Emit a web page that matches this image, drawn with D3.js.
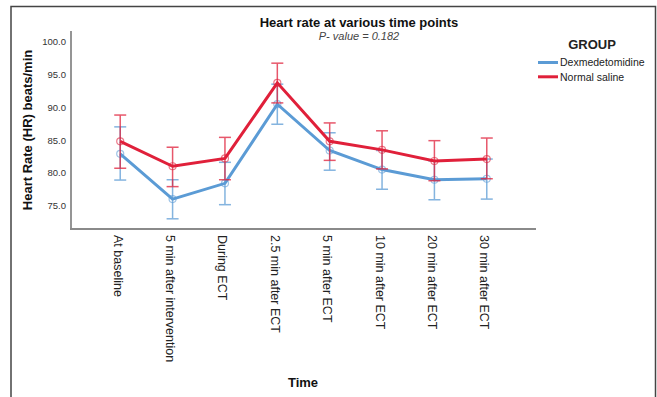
<!DOCTYPE html>
<html>
<head>
<meta charset="utf-8">
<script src="https://cdn.jsdelivr.net/npm/d3@7"></script>
<style>
  html, body { margin: 0; padding: 0; background: #fff; }
  svg { display: block; font-family: "Liberation Sans", Arial, sans-serif; }
</style>
</head>
<body>
<svg id="chart" width="657" height="397"></svg>
<script>
// time points on the x axis
const timePoints = ['At baseline', '5 min after intervention', 'During ECT', '2.5 min after ECT',
  '5 min after ECT', '10 min after ECT', '20 min after ECT', '30 min after ECT'];

// mean heart rate and error bar bounds
const dexMean  = [82.9, 76.0, 78.4, 90.45, 83.4, 80.5, 78.95, 79.1];
const dexLow   = [78.9, 73.0, 75.15, 87.4, 80.4, 77.5, 75.9, 76.0];
const dexHigh  = [87.0, 78.95, 81.6, 93.5, 86.1, 83.4, 81.8, 82.1];
const salMean  = [84.8, 81.0, 82.2, 93.7, 84.8, 83.5, 81.8, 82.1];
const salLow   = [80.7, 77.9, 78.95, 90.65, 81.9, 80.6, 78.8, 79.1];
const salHigh  = [88.8, 83.9, 85.4, 96.7, 87.6, 86.4, 84.9, 85.3];

const yTicks = [75, 80, 85, 90, 95, 100];
const groups = ['Dexmedetomidine', 'Normal saline'];
const groupColours = ['#5b9bd5', '#e0203a'];

const svg = d3.select('#chart');

// outer frame
svg.append('path')
  .attr('d', 'M11,397 V6.5 H655.5 V397')
  .attr('fill', 'none')
  .attr('stroke', '#444')
  .attr('stroke-width', 1.5);

const x = d3.scalePoint().domain(timePoints).range([71, 536]).padding(0.94);
const y = d3.scaleLinear().domain([70, 100]).range([238.5, 41.5]);

// axes — grey lines, no tick marks
const yAxis = svg.append('g').attr('transform', 'translate(71,0)')
  .call(d3.axisLeft(y).tickValues(yTicks).tickFormat(d3.format('.1f')).tickSize(0).tickPadding(5));
yAxis.select('.domain').remove();
yAxis.selectAll('text').attr('font-size', 9.5).attr('fill', '#333')
  .attr('font-family', '"Liberation Sans", Arial, sans-serif');

svg.append('line').attr('x1', 71).attr('x2', 71).attr('y1', 31).attr('y2', 229.5)
  .attr('stroke', '#8a8a8a').attr('stroke-width', 1.8);
svg.append('line').attr('x1', 70).attr('x2', 536).attr('y1', 229).attr('y2', 229)
  .attr('stroke', '#8a8a8a').attr('stroke-width', 1.8);

const xAxis = svg.append('g').attr('transform', 'translate(0,229)')
  .call(d3.axisBottom(x).tickSize(0));
xAxis.select('.domain').remove();
xAxis.selectAll('text')
  .attr('font-size', 12.5).attr('fill', '#222')
  .attr('font-family', '"Liberation Sans", Arial, sans-serif')
  .attr('text-anchor', 'start')
  .attr('dy', null)
  .attr('y', 0)
  .attr('transform', 'translate(-7,6) rotate(90)');

const series = [
  { mean: dexMean, low: dexLow, high: dexHigh, colour: groupColours[0] },
  { mean: salMean, low: salLow, high: salHigh, colour: groupColours[1] }
];

const line = d3.line().x((d, i) => x(timePoints[i])).y(d => y(d));

series.forEach(s => {
  const g = svg.append('g');
  // error bars
  const bars = g.selectAll('g.err').data(timePoints).enter().append('g')
    .attr('opacity', 0.75);
  bars.append('line')
    .attr('x1', d => x(d)).attr('x2', d => x(d))
    .attr('y1', (d, i) => y(s.low[i])).attr('y2', (d, i) => y(s.high[i]))
    .attr('stroke', s.colour).attr('stroke-width', 1.5);
  [s.low, s.high].forEach(arr => {
    bars.append('line')
      .attr('x1', d => x(d) - 6).attr('x2', d => x(d) + 6)
      .attr('y1', (d, i) => y(arr[i])).attr('y2', (d, i) => y(arr[i]))
      .attr('stroke', s.colour).attr('stroke-width', 1.5);
  });
  // mean line
  g.append('path').datum(s.mean)
    .attr('d', line)
    .attr('fill', 'none')
    .attr('stroke', s.colour)
    .attr('stroke-width', 3);
  // markers
  g.selectAll('circle').data(s.mean).enter().append('circle')
    .attr('cx', (d, i) => x(timePoints[i])).attr('cy', d => y(d))
    .attr('r', 3.5)
    .attr('fill', 'none')
    .attr('stroke', s.colour)
    .attr('stroke-opacity', 0.6)
    .attr('stroke-width', 1.2);
});

// titles
svg.append('text').attr('x', 359).attr('y', 27).attr('text-anchor', 'middle')
  .attr('font-size', 13).attr('font-weight', 'bold').attr('fill', '#111')
  .text('Heart rate at various time points');
svg.append('text').attr('x', 359).attr('y', 39.5).attr('text-anchor', 'middle')
  .attr('font-size', 11).attr('font-style', 'italic').attr('fill', '#444')
  .text('P- value = 0.182');

svg.append('text')
  .attr('transform', 'translate(32,130) rotate(-90)')
  .attr('text-anchor', 'middle')
  .attr('font-size', 13).attr('font-weight', 'bold').attr('fill', '#111')
  .text('Heart Rate (HR) beats/min');

svg.append('text').attr('x', 303).attr('y', 387).attr('text-anchor', 'middle')
  .attr('font-size', 13).attr('font-weight', 'bold').attr('fill', '#111')
  .text('Time');

// legend
const legend = svg.append('g');
legend.append('text').attr('x', 592).attr('y', 48.5).attr('text-anchor', 'middle')
  .attr('font-size', 13).attr('font-weight', 'bold').attr('fill', '#222')
  .text('GROUP');
groups.forEach((name, i) => {
  const ly = 62.5 + i * 14.3;
  legend.append('line').attr('x1', 538).attr('x2', 558).attr('y1', ly).attr('y2', ly)
    .attr('stroke', groupColours[i]).attr('stroke-width', 3);
  legend.append('text').attr('x', 560).attr('y', ly + 3.8)
    .attr('font-size', 10.5).attr('fill', '#222')
    .text(name);
});
</script>
</body>
</html>
